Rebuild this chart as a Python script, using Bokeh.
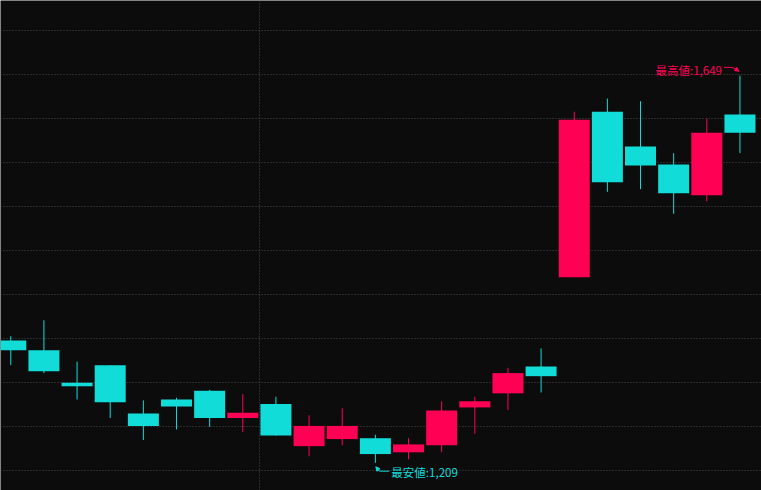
from bokeh.plotting import figure
from bokeh.models import ColumnDataSource, FixedTicker, Range1d, Label, Arrow, NormalHead
from bokeh.embed import file_html
from bokeh.resources import INLINE

# ---- data ----
opens  = [1348, 1337, 1300, 1320, 1265, 1281, 1291, 1260, 1276, 1228, 1236, 1237,
          1221, 1229, 1272, 1288, 1318.5, 1420, 1608, 1568.5, 1548, 1513, 1605]
closes = [1337, 1313, 1296, 1278, 1251, 1273, 1260, 1266, 1240, 1251, 1251, 1219,
          1230, 1268.5, 1279, 1311, 1307.5, 1599, 1528, 1547, 1515.5, 1584, 1584]
highs  = [1353, 1371, 1324, 1320, 1280, 1283, 1292, 1287, 1284, 1263, 1271, 1241,
          1237, 1279, 1284, 1317, 1339, 1608, 1623, 1620, 1561, 1600, 1649]
lows   = [1320, 1311, 1281, 1260, 1235, 1247, 1250, 1244, 1240, 1216.5, 1229, 1209,
          1213, 1221, 1242, 1269, 1289, 1420, 1517, 1520, 1492, 1506, 1561]
grid_levels = [1200, 1250, 1300, 1350, 1400, 1450, 1500, 1550, 1600, 1650, 1700]
period_break = [7.5]
high_label = "最高値:1,649"
low_label = "最安値:1,209"

UP = "#ff0055"
DOWN = "#12dcd8"
BG = "#0c0c0c"

idx = list(range(len(opens)))
colors = [UP if c >= o else DOWN for o, c in zip(opens, closes)]
src = ColumnDataSource(dict(
    x=idx, open=opens, close=closes, high=highs, low=lows,
    top=[max(o, c) for o, c in zip(opens, closes)],
    bottom=[min(o, c) for o, c in zip(opens, closes)],
    color=colors,
))

p = figure(width=761, height=490, output_backend="svg", toolbar_location=None,
           x_range=Range1d(-0.31, 22.65), y_range=Range1d(1177.6, 1734.4),
           min_border=0, x_axis_location=None, y_axis_location=None)
p.background_fill_color = BG
p.border_fill_color = BG
p.outline_line_color = None

p.ygrid.ticker = FixedTicker(ticks=grid_levels)
p.xgrid.ticker = FixedTicker(ticks=period_break)
for g in (p.xgrid, p.ygrid):
    g.grid_line_color = "#4a4a4a"
    g.grid_line_dash = "1 2"
    g.grid_line_width = 1

p.segment(x0="x", y0="low", x1="x", y1="high", color="color", line_width=1, source=src)
p.vbar(x="x", width=0.935, top="top", bottom="bottom", fill_color="color",
       line_color=None, source=src)

# annotations for max / min
px_x = 33.14   # pixels per candle
px_y = 0.88    # pixels per price unit
hi_i = highs.index(max(highs))
lo_i = lows.index(min(lows))
hi_v = max(highs)
lo_v = min(lows)

p.line([hi_i - 16 / px_x, hi_i - 8 / px_x], [hi_v + 8.3 / px_y] * 2, color=UP, line_width=1)
p.line([hi_i - 8 / px_x, hi_i - 1 / px_x], [hi_v + 8.3 / px_y, hi_v + 4.5 / px_y],
       color=UP, line_width=1)
p.add_layout(Arrow(end=NormalHead(size=4, fill_color=UP, line_color=UP),
                   x_start=hi_i - 4 / px_x, y_start=hi_v + 6.4 / px_y,
                   x_end=hi_i - 1 / px_x, y_end=hi_v + 4.5 / px_y,
                   line_color=UP, line_width=1))
p.add_layout(Label(x=hi_i - 18 / px_x, y=hi_v + 6 / px_y, text=high_label,
                   text_align="right", text_baseline="middle",
                   text_color=UP, text_font="Noto Sans CJK JP",
                   text_font_size="11.5px"))

p.line([lo_i + 4 / px_x, lo_i + 14 / px_x], [lo_v - 8.3 / px_y] * 2, color=DOWN, line_width=1)
p.line([lo_i + 0.5 / px_x, lo_i + 4 / px_x], [lo_v - 4.0 / px_y, lo_v - 8.3 / px_y],
       color=DOWN, line_width=1)
p.add_layout(Arrow(end=NormalHead(size=4, fill_color=DOWN, line_color=DOWN),
                   x_start=lo_i + 3 / px_x, y_start=lo_v - 7 / px_y,
                   x_end=lo_i + 0.5 / px_x, y_end=lo_v - 4.0 / px_y,
                   line_color=DOWN, line_width=1))
p.add_layout(Label(x=lo_i + 16 / px_x, y=lo_v - 9 / px_y, text=low_label,
                   text_align="left", text_baseline="middle",
                   text_color=DOWN, text_font="Noto Sans CJK JP",
                   text_font_size="11.5px"))

open("out.html", "w").write(file_html(p, INLINE))
